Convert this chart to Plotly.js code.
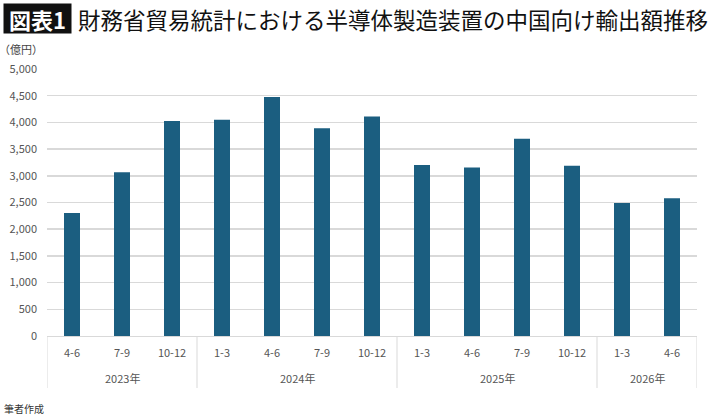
<!DOCTYPE html>
<html>
<head>
<meta charset="utf-8">
<script src="https://cdn.plot.ly/plotly-3.0.1.min.js"></script>
<style>
  body { margin: 0; background: #fff; }
  #graph { width: 710px; height: 418px; }
</style>
</head>
<body>
<div id="graph"></div>
<script>
/* 四半期ごとの輸出額（億円） */
const years = ["2023年", "2023年", "2023年",
    "2024年", "2024年", "2024年", "2024年",
    "2025年", "2025年", "2025年", "2025年",
    "2026年", "2026年"];
const quarters = ["4-6", "7-9", "10-12",
    "1-3", "4-6", "7-9", "10-12",
    "1-3", "4-6", "7-9", "10-12",
    "1-3", "4-6"];
const values = [2305, 3065, 4025, 4050, 4475, 3890, 4110,
    3200, 3155, 3695, 3190, 2490, 2578];
const yTicks = [0, 500, 1000, 1500, 2000, 2500, 3000, 3500, 4000, 4500, 5000];

const font = "'Noto Sans CJK JP', 'Noto Sans', sans-serif";
const plotH = 267; // plot area height in px
const px = (p) => p / plotH; // pixels -> paper units (vertical)

const idx = quarters.map((q, i) => i);

/* group years: first index, last index */
const groups = [];
years.forEach((y, i) => {
    const g = groups[groups.length - 1];
    if (g && g.name === y) g.end = i;
    else groups.push({ name: y, start: i, end: i });
});

const yearLabels = groups.map((g) => ({
    text: g.name,
    xref: "x", yref: "paper",
    x: (g.start + g.end) / 2, y: -px(42),
    xanchor: "center", yanchor: "middle",
    showarrow: false,
    font: { family: font, size: 11, color: "#555" },
}));

const bounds = [-0.5].concat(groups.map((g) => g.end + 0.5));
const dividers = bounds.map((b) => ({
    type: "line",
    xref: "x", yref: "paper",
    x0: b, x1: b, y0: 0, y1: -px(52),
    line: { color: "#d9d9d9", width: 1 },
}));

const trace = {
    x: idx,
    y: values,
    type: "bar",
    marker: { color: "#1b5e80" },
    hoverinfo: "y",
};

const layout = {
    width: 710,
    height: 418,
    margin: { l: 47, r: 13, t: 69, b: 82 },
    paper_bgcolor: "#fff",
    plot_bgcolor: "#fff",
    bargap: 0.68,
    showlegend: false,
    font: { family: font, size: 11, color: "#555" },
    xaxis: {
        range: [-0.5, quarters.length - 0.5],
        tickvals: idx,
        ticktext: quarters,
        showgrid: false,
        zeroline: false,
        showline: true,
        linecolor: "#d9d9d9",
        linewidth: 1,
        ticks: "",
        ticklabelstandoff: 7,
        tickfont: { size: 11, color: "#555" },
    },
    yaxis: {
        range: [0, 5000],
        tickvals: yTicks,
        tickformat: ",",
        showgrid: true,
        gridcolor: "#d9d9d9",
        gridwidth: 1.5,
        zeroline: false,
        ticks: "",
        ticklabelstandoff: 9,
        tickfont: { size: 11, color: "#555" },
    },
    shapes: dividers,
    annotations: yearLabels.concat([
        {
            text: "<b>図表1</b>",
            xref: "paper", yref: "paper",
            x: -44 / 650, y: 1 + px(66),
            xanchor: "left", yanchor: "top",
            showarrow: false,
            bgcolor: "#111",
            borderpad: 1,
            width: 65,
            height: 27,
            font: { family: font, size: 22, color: "#fff" },
        },
        {
            text: "財務省貿易統計における半導体製造装置の中国向け輸出額推移",
            xref: "paper", yref: "paper",
            x: 29 / 650, y: 1 + px(68),
            xanchor: "left", yanchor: "top",
            showarrow: false,
            font: { family: font, size: 22.5, color: "#111" },
        },
        {
            text: "（億円）",
            xref: "paper", yref: "paper",
            x: -50 / 650, y: 1 + px(20),
            xanchor: "left", yanchor: "middle",
            showarrow: false,
            font: { family: font, size: 11, color: "#444" },
        },
        {
            text: "筆者作成",
            xref: "paper", yref: "paper",
            x: -45 / 650, y: -px(72),
            xanchor: "left", yanchor: "middle",
            showarrow: false,
            font: { family: font, size: 10, color: "#333" },
        },
    ]),
};

Plotly.newPlot("graph", [trace], layout, { displayModeBar: false, staticPlot: true });
</script>
</body>
</html>
